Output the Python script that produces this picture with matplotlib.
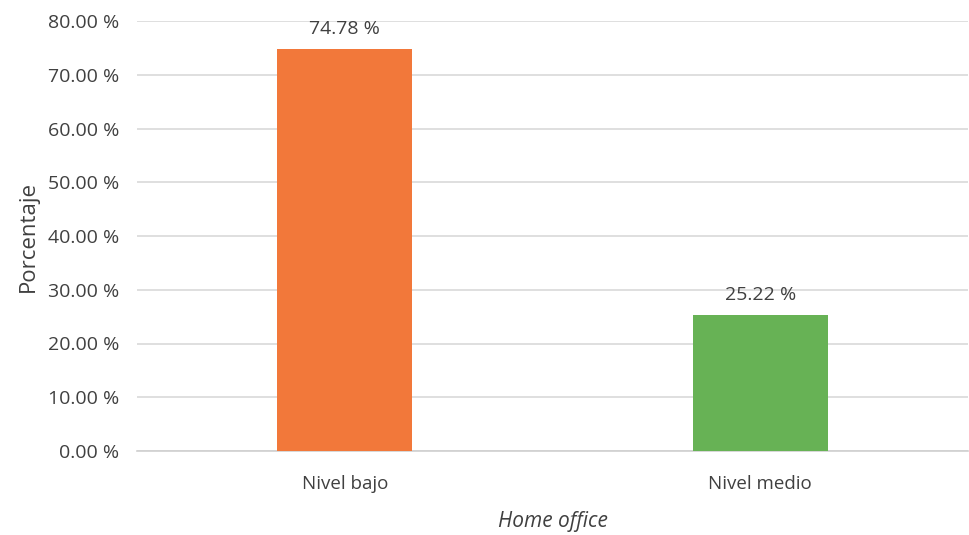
"""Home office — porcentaje por nivel."""

import matplotlib
matplotlib.use("Agg")
import matplotlib.pyplot as plt

categories = ["Nivel bajo", "Nivel medio"]
values = [74.78, 25.22]
bar_colors = ["#F2783A", "#67B255"]
yticks = [0, 10, 20, 30, 40, 50, 60, 70, 80]

plt.rcParams["font.family"] = ["Open Sans", "DejaVu Sans"]
txt = "#404040"

fig = plt.figure(figsize=(9.69, 5.35), dpi=100)
ax = fig.add_axes([137 / 969, 1 - 451 / 535, 831 / 969, 430 / 535])

xs = range(len(categories))
ax.bar(xs, values, width=0.325, color=bar_colors, zorder=3)
for x, v in zip(xs, values):
    ax.annotate(f"{v:.2f} %", (x, v), xytext=(0, 8), textcoords="offset points",
                ha="center", va="bottom", fontsize=14, color=txt)

ax.set_xlim(-0.5, 1.5)
ax.set_ylim(0, 80)
ax.set_yticks(yticks)
ax.set_yticklabels([f"{t:.2f} %" for t in yticks])
ax.set_xticks(list(xs))
ax.set_xticklabels(categories)
ax.tick_params(axis="both", length=0, labelcolor=txt)
ax.tick_params(axis="x", labelsize=13.5, pad=17)
ax.tick_params(axis="y", labelsize=14, pad=13)

ax.grid(axis="y", color="#D9D9D9", lw=1.2, zorder=0)
for s in ["top", "right", "left"]:
    ax.spines[s].set_visible(False)
ax.spines["bottom"].set_color("#D0D0D0")
ax.spines["bottom"].set_linewidth(1.2)

ax.set_ylabel("Porcentaje", fontsize=16, color=txt, labelpad=6)
ax.set_xlabel("Home office", fontsize=15, color=txt, style="italic", labelpad=13)

fig.savefig("out.png", dpi=100)
